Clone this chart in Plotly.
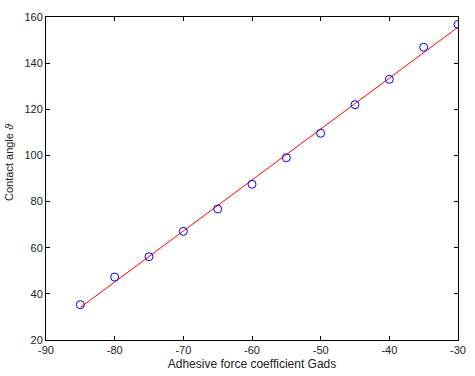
import plotly.graph_objects as go

gads = [-85, -80, -75, -70, -65, -60, -55, -50, -45, -40, -35, -30]
angle = [35.3, 47.3, 56.1, 67.1, 76.8, 87.5, 99.0, 109.6, 122.0, 133.0, 146.9, 156.8]

fit_x = [-85, -30]
fit_y = [34.1, 155.6]

x_ticks = [-90, -80, -70, -60, -50, -40, -30]
y_ticks = [20, 40, 60, 80, 100, 120, 140, 160]

fig = go.Figure()
fig.add_trace(go.Scatter(x=fit_x, y=fit_y, mode="lines",
                         line=dict(color="red", width=1), showlegend=False))
fig.add_trace(go.Scatter(x=gads, y=angle, mode="markers",
                         marker=dict(symbol="circle-open", size=8, color="blue",
                                     line=dict(width=1, color="blue")),
                         showlegend=False))

axis_common = dict(showgrid=False, zeroline=False, showline=True, linecolor="black",
                   linewidth=1, mirror="ticks", ticks="inside", ticklen=4,
                   tickcolor="black", automargin=False,
                   tickfont=dict(family="Arial, Liberation Sans", size=11, color="#222"))

fig.update_xaxes(range=[-90, -30], tickvals=x_ticks, ticktext=[str(v) for v in x_ticks],
                 title=dict(text="Adhesive force coefficient Gads", standoff=4,
                            font=dict(family="Arial, Liberation Sans", size=12, color="#222")),
                 **axis_common)
fig.update_yaxes(range=[20, 160], tickvals=y_ticks, ticktext=[str(v) for v in y_ticks],
                 **axis_common)

fig.add_annotation(text="Contact angle <i>ϑ</i>", xref="paper", yref="paper",
                   x=-0.09, y=0.551, xanchor="center", yanchor="middle",
                   textangle=-90, showarrow=False,
                   font=dict(family="Arial, Liberation Sans", size=11, color="#222"))

fig.update_layout(width=475, height=376, paper_bgcolor="white", plot_bgcolor="white",
                  margin=dict(l=46, r=17, t=17, b=36))

fig.write_html("out.html", config={"displayModeBar": False},
               post_script="document.body.style.margin='0';document.body.style.overflow='hidden';")
